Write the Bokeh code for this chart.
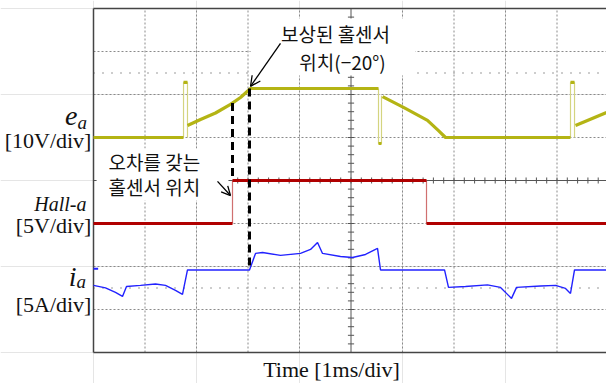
import numpy as np
from bokeh.plotting import figure
from bokeh.models import Label, Arrow, OpenHead
from bokeh.embed import file_html
from bokeh.resources import INLINE

# ---------------- data (time in ms, 1 ms/div; vertical in divisions) ----------------
T_END = 9.961

# e_a [V], 10 V/div, ground at +1 div
EA_GND, EA_SCALE = 1.0, 10.0
ea_seg1_t = [0.0, 1.748]
ea_seg1_v = [0.0, 0.0]
ea_spike1_t = [1.748, 1.748, 1.825, 1.825]
ea_spike1_v = [0.0, 12.8, 12.8, 0.0]
ea_seg2_t = [1.825, 2.078, 2.369, 2.660, 2.854, 3.049, 5.534]
ea_seg2_v = [2.8, 4.2, 5.7, 7.7, 9.3, 11.4, 11.4]
ea_drop_t = [5.534, 5.534, 5.592, 5.592]
ea_drop_v = [11.4, -1.4, -1.4, 9.7]
ea_seg3_t = [5.612, 6.019, 6.485, 6.699, 6.835, 9.262]
ea_seg3_v = [9.5, 7.0, 4.0, 1.6, 0.0, 0.0]
ea_spike2_t = [9.262, 9.262, 9.340, 9.340]
ea_spike2_v = [0.0, 12.8, 12.8, 0.0]
ea_seg4_t = [9.359, 9.961]
ea_seg4_v = [2.8, 5.8]

# Hall-a [V], 5 V/div, ground at -1 div
HALL_GND, HALL_SCALE = -1.0, 5.0
hall_edges = [0.0, 2.699, 6.466, 9.961]
hall_levels = [0.0, 5.0, 0.0]

# i_a [A], 5 A/div, ground at -2.08 div
IA_GND, IA_SCALE = -2.08, 5.0
ia_t = [0.0, 0.233, 0.427, 0.563, 0.641, 0.913, 1.204, 1.398, 1.592, 1.728,
        1.825, 3.029, 3.146, 3.282, 3.631, 4.019, 4.214, 4.350, 4.447, 4.796,
        5.029, 5.282, 5.515, 5.573, 6.816, 6.893, 7.223, 7.650, 7.903, 8.117,
        8.214, 8.680, 8.971, 9.165, 9.262, 9.340, 9.961]
ia_a = [-1.80, -2.09, -2.62, -3.08, -1.92, -1.80, -1.63, -1.80, -2.38, -2.85,
        0.0, 0.0, 1.92, 2.03, 1.69, 1.92, 2.38, 3.20, 1.92, 1.57,
        1.45, 1.80, 2.50, 0.0, 0.0, -2.03, -1.92, -1.74, -2.03, -3.31,
        -2.03, -1.86, -1.80, -2.15, -2.73, 0.0, 0.0]

COMP_T = 3.029  # compensated hall-sensor position

grid_x = [1, 2, 3, 4, 6, 7, 8, 9]
grid_y = [-3, -2, -1, 1, 2, 3]


def ea_div(v):
    return [EA_GND + x / EA_SCALE for x in v]


def hall_div(v):
    return [HALL_GND + x / HALL_SCALE for x in v]


def ia_div(v):
    return [IA_GND + x / IA_SCALE for x in v]


# ---------------- figure (51.5 px per ms, 43 px per div) ----------------
p = figure(width=606, height=383,
           x_range=(-93 / 51.5, T_END), y_range=(-203 / 43, 180 / 43),
           output_backend="svg", toolbar_location=None,
           x_axis_location=None, y_axis_location=None,
           min_border_left=0, min_border_right=0,
           min_border_top=0, min_border_bottom=0)
p.outline_line_color = None
p.background_fill_color = "white"
p.border_fill_color = "white"

# grid
GRID_COL = "#8a8a8a"
p.segment(x0=grid_x, x1=grid_x, y0=-4, y1=4, line_color=GRID_COL, line_dash="2 2", line_width=1)
p.segment(x0=0, x1=T_END, y0=grid_y, y1=grid_y, line_color=GRID_COL, line_dash="2 2", line_width=1)
# dotted cursor rows
p.segment(x0=0, x1=T_END, y0=[2.5, -2.5], y1=[2.5, -2.5], line_color="#9a9a9a",
          line_dash="1 8", line_width=2)

# center axes with minor ticks
AX_COL = "#555555"
p.segment(x0=5, x1=5, y0=-4, y1=4, line_color=AX_COL, line_width=1)
p.segment(x0=0, x1=T_END, y0=0, y1=0, line_color=AX_COL, line_width=1)
yt = np.arange(-4, 4.001, 0.2)
p.segment(x0=5 - 0.06, x1=5 + 0.06, y0=yt, y1=yt, line_color=AX_COL, line_width=1)
xt = np.arange(0, T_END, 0.2)
p.segment(x0=xt, x1=xt, y0=-0.07, y1=0.07, line_color=AX_COL, line_width=1)

# white masks behind annotation text
p.quad(left=3.05, right=6.25, bottom=2.44, top=3.77, fill_color="white", line_color=None)
p.quad(left=0.06, right=2.62, bottom=-0.465, top=0.744, fill_color="white", line_color=None)

# frame borders (left, top, bottom; right edge is off-screen)
BORDER = "#444444"
p.segment(x0=0, x1=0, y0=-4, y1=4, line_color=BORDER, line_width=1.5)
p.segment(x0=0, x1=T_END, y0=[4, -4], y1=[4, -4], line_color=BORDER, line_width=1.5)

# ---------------- traces ----------------
EA_COL, EA_THIN = "#b4b414", "#d4d480"
for tt, vv in [(ea_spike1_t, ea_spike1_v), (ea_drop_t, ea_drop_v), (ea_spike2_t, ea_spike2_v)]:
    p.line(tt, ea_div(vv), line_color=EA_THIN, line_width=1.2)
for tt, vv in [(ea_seg1_t, ea_seg1_v), (ea_seg2_t, ea_seg2_v),
               (ea_seg3_t, ea_seg3_v), (ea_seg4_t, ea_seg4_v),
               (ea_spike1_t[1:3], ea_spike1_v[1:3]), (ea_spike2_t[1:3], ea_spike2_v[1:3]),
               (ea_drop_t[1:3], ea_drop_v[1:3])]:
    p.line(tt, ea_div(vv), line_color=EA_COL, line_width=3.2)

HALL_COL, HALL_THIN = "#b00000", "#d07070"
hl = hall_div(hall_levels)
p.segment(x0=hall_edges[1:-1], x1=hall_edges[1:-1], y0=hl[:-1], y1=hl[1:],
          line_color=HALL_THIN, line_width=1.2)
p.segment(x0=hall_edges[:-1], x1=hall_edges[1:], y0=hl, y1=hl,
          line_color=HALL_COL, line_width=3.2)

IA_COL = "#2222ff"
p.line(ia_t, ia_div(ia_a), line_color=IA_COL, line_width=1.4)
p.segment(x0=0, x1=0.09, y0=IA_GND + 0.03, y1=IA_GND + 0.03, line_color=IA_COL, line_width=2)

# dashed markers
hall_rise = hall_edges[1]
ea_at_rise = EA_GND + float(np.interp(hall_rise, ea_seg2_t, ea_seg2_v)) / EA_SCALE
p.segment(x0=hall_rise, x1=hall_rise, y0=ea_at_rise, y1=HALL_GND + 5.0 / HALL_SCALE,
          line_color="black", line_width=3, line_dash="8 5")
p.segment(x0=COMP_T, x1=COMP_T, y0=EA_GND + ea_seg2_v[-1] / EA_SCALE, y1=IA_GND,
          line_color="black", line_width=3, line_dash="8 5")

# arrows
p.add_layout(Arrow(end=OpenHead(size=10, line_width=1.3, line_color="black"),
                   x_start=3.631, y_start=3.19, x_end=3.049, y_end=2.19,
                   line_width=1.3, line_color="black"))
p.add_layout(Arrow(end=OpenHead(size=9, line_width=1.3, line_color="black"),
                   x_start=2.408, y_start=-0.02, x_end=2.66, y_end=-0.35,
                   line_width=1.3, line_color="black"))

# ---------------- texts ----------------
KR = "Noto Sans CJK KR"
SERIF = "Liberation Serif"


def lab(x, y, text, size, font=SERIF, style="normal", align="left", baseline="alphabetic"):
    p.add_layout(Label(x=x, y=y, text=text, text_font=font, text_font_size=f"{size}px",
                       text_font_style=style, text_align=align, text_baseline=baseline,
                       text_color="#111111"))


lab(4.699, 3.42, "보상된 홀센서", 19, KR, align="center", baseline="middle")
lab(4.835, 2.77, "위치(−20°)", 19, KR, align="center", baseline="middle")
lab(0.291, 0.442, "오차를 갖는", 19, KR, baseline="middle")
lab(0.291, -0.140, "홀센서 위치", 19, KR, baseline="middle")

lab(-0.311, 1.489, "e", 28, style="italic", align="right")
lab(-0.311, 1.349, "a", 19, style="italic")
lab(-0.04, 0.930, "[10V/div]", 22, align="right")
lab(-0.136, -0.54, "Hall-a", 20, style="italic", align="right")
lab(-0.04, -1.046, "[5V/div]", 22, align="right")
lab(-0.330, -2.232, "i", 28, style="italic", align="right")
lab(-0.330, -2.349, "a", 19, style="italic")
lab(-0.04, -2.884, "[5A/div]", 22, align="right")
lab(4.621, -4.395, "Time [1ms/div]", 22, align="center")

open("out.html", "w").write(file_html(p, INLINE))
